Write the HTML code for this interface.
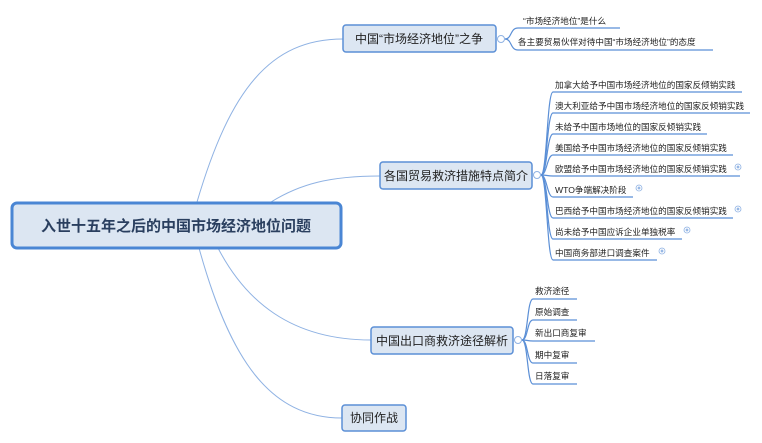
<!DOCTYPE html>
<html><head><meta charset="utf-8"><style>
html,body{margin:0;padding:0;background:#fff;}
svg{display:block;}
text{font-family:"Liberation Sans","Noto Sans CJK SC",sans-serif;fill:#222;}
</style></head><body>
<svg width="762" height="443" viewBox="0 0 762 443" xmlns="http://www.w3.org/2000/svg">
<g fill="none" stroke="#8fb2e3" stroke-width="1">
<path d="M197,202 C230,90 270,39 343,39"/>
<path d="M271,202 C300,184 330,176 380,176"/>
<path d="M218,248 C245,300 290,340 371,340"/>
<path d="M199,248 C230,360 270,418 342,418"/>
</g>
<g fill="none" stroke="#5b8fd6" stroke-width="1.2">
<path d="M505,39 C512,39 510,28 518,28 L620,28"/>
<path d="M505,39 C512,39 510,50 518,50 L713,50"/>
<path d="M541,175 C547,175 547,92 553,92 L742,92"/>
<path d="M541,175 C547,175 547,113 553,113 L750,113"/>
<path d="M541,175 C547,175 547,134 553,134 L707,134"/>
<path d="M541,175 C547,175 547,155 553,155 L733,155"/>
<path d="M541,175 C547,175 547,176 553,176 L740,176"/>
<path d="M541,175 C547,175 547,197 553,197 L633,197"/>
<path d="M541,175 C547,175 547,218 553,218 L733,218"/>
<path d="M541,175 C547,175 547,239 553,239 L682,239"/>
<path d="M541,175 C547,175 547,260 553,260 L657,260"/>
<path d="M522,340 C528,340 527,299 533,299 L577,299"/>
<path d="M522,340 C528,340 527,320 533,320 L577,320"/>
<path d="M522,340 C528,340 527,341 533,341 L595,341"/>
<path d="M522,340 C528,340 527,363 533,363 L577,363"/>
<path d="M522,340 C528,340 527,384 533,384 L577,384"/>
</g>
<rect x="12" y="203" width="329" height="45" rx="5" fill="#dce6f2" stroke="#4a86d4" stroke-width="3"/>
<text x="176" y="231" font-size="15" font-weight="bold" text-anchor="middle" style="fill:#2a3f5f">入世十五年之后的中国市场经济地位问题</text>
<rect x="343" y="25" width="153" height="27" rx="3" fill="#dce6f2" stroke="#5b8fd6" stroke-width="1.5"/>
<text x="419" y="43" font-size="12" text-anchor="middle">中国“市场经济地位”之争</text>
<circle cx="501" cy="39" r="3.5" fill="#fff" stroke="#8fb2e3"/>
<rect x="380" y="162" width="152" height="27" rx="3" fill="#dce6f2" stroke="#5b8fd6" stroke-width="1.5"/>
<text x="456" y="180" font-size="12" text-anchor="middle">各国贸易救济措施特点简介</text>
<circle cx="537" cy="175" r="3.5" fill="#fff" stroke="#8fb2e3"/>
<rect x="371" y="327" width="142" height="27" rx="3" fill="#dce6f2" stroke="#5b8fd6" stroke-width="1.5"/>
<text x="442" y="345" font-size="12" text-anchor="middle">中国出口商救济途径解析</text>
<circle cx="518" cy="340" r="3.5" fill="#fff" stroke="#8fb2e3"/>
<rect x="342" y="405" width="64" height="26" rx="3" fill="#dce6f2" stroke="#5b8fd6" stroke-width="1.5"/>
<text x="374" y="422" font-size="12" text-anchor="middle">协同作战</text>
<g font-size="8.6">
<text x="523" y="24">“市场经济地位”是什么</text>
<text x="518" y="45">各主要贸易伙伴对待中国“市场经济地位”的态度</text>
<text x="555" y="88">加拿大给予中国市场经济地位的国家反倾销实践</text>
<text x="555" y="109">澳大利亚给予中国市场经济地位的国家反倾销实践</text>
<text x="555" y="130">未给予中国市场地位的国家反倾销实践</text>
<text x="555" y="151">美国给予中国市场经济地位的国家反倾销实践</text>
<text x="555" y="172">欧盟给予中国市场经济地位的国家反倾销实践</text>
<text x="555" y="193">WTO争端解决阶段</text>
<text x="555" y="214">巴西给予中国市场经济地位的国家反倾销实践</text>
<text x="555" y="235">尚未给予中国应诉企业单独税率</text>
<text x="555" y="256">中国商务部进口调查案件</text>
<text x="535" y="294">救济途径</text>
<text x="535" y="315">原始调查</text>
<text x="535" y="336">新出口商复审</text>
<text x="535" y="358">期中复审</text>
<text x="535" y="379">日落复审</text>
</g>
<g fill="#fff" stroke="#8fb2e3" stroke-width="0.8">
<circle cx="738" cy="167" r="3"/><circle cx="639" cy="188" r="3"/><circle cx="738" cy="209" r="3"/><circle cx="687" cy="230" r="3"/><circle cx="662" cy="251" r="3"/>
</g>
<g stroke="#5b8fd6" stroke-width="0.8">
<path d="M736.5,167h3M738,165.5v3M637.5,188h3M639,186.5v3M736.5,209h3M738,207.5v3M685.5,230h3M687,228.5v3M660.5,251h3M662,249.5v3"/>
</g>
</svg>
</body></html>
